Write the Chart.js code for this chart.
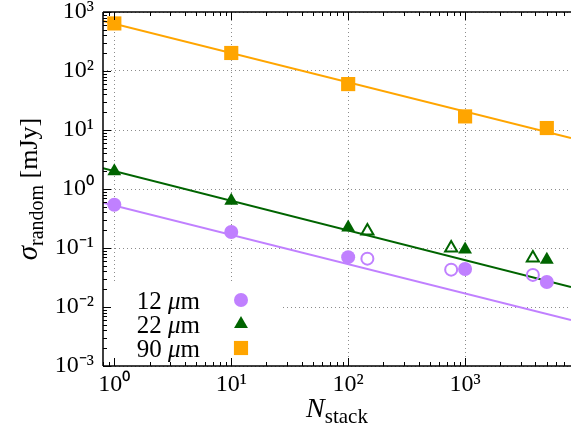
<!DOCTYPE html>
<html>
<head>
<meta charset="utf-8">
<script src="https://cdn.jsdelivr.net/npm/chart.js@4.4.0/dist/chart.umd.min.js"></script>
<style>
  html, body { margin: 0; padding: 0; background: #fff; }
  canvas { display: block; }
</style>
</head>
<body>
<canvas id="stackChart" width="571" height="434"></canvas>
<script>
// stacked N values (filled markers) and the offset set (open markers)
const nStack = [1, 10, 100, 1000, 5000];
const nStackOpen = [146, 760, 3800];
const sigma12 = [0.54, 0.187, 0.070, 0.044, 0.0266];
const sigma22 = [2.0, 0.63, 0.222, 0.094, 0.063];
const sigma90 = [640, 202, 60, 17, 10.8];
const sigma12Open = [0.066, 0.043, 0.035];
const sigma22Open = [0.194, 0.10, 0.068];
// fit lines, read at both ends of the plot
const fitX = [0.8, 8050];
const fit12 = [0.585, 0.006];
const fit22 = [2.26, 0.0218];
const fit90 = [703, 7.3];
const xTicks = [1, 10, 100, 1000];
const yTicks = [0.001, 0.01, 0.1, 1, 10, 100, 1000];

const PURPLE = '#c080ff';
const GREEN = '#006400';
const ORANGE = '#ffa500';
const SERIF = "'Liberation Serif', 'Times New Roman', serif";

const sup = { '0': '⁰', '1': '¹', '2': '²', '3': '³', '-': '⁻' };
function powLabel(v) {
    const e = String(Math.round(Math.log10(v)));
    return '10' + e.split('').map(c => sup[c]).join('');
}
function pts(xs, ys) {
    return xs.map((x, i) => ({ x: x, y: ys[i] }));
}

// draw a run of text pieces (different fonts / baseline shifts) side by side
function drawRuns(ctx, runs, x, y, align) {
    let total = 0;
    runs.forEach(r => { ctx.font = r.font; total += ctx.measureText(r.text).width; });
    let cx = align === 'center' ? x - total / 2 : (align === 'right' ? x - total : x);
    ctx.textAlign = 'left';
    ctx.textBaseline = 'alphabetic';
    runs.forEach(r => {
        ctx.font = r.font;
        ctx.fillText(r.text, cx, y + (r.dy || 0));
        cx += ctx.measureText(r.text).width;
    });
}

const legendItems = [
    { label: '12 ', color: PURPLE, style: 'circle', radius: 7 },
    { label: '22 ', color: GREEN, style: 'triangle', radius: 8 },
    { label: '90 ', color: ORANGE, style: 'rect', radius: 10 }
];

const framePlugin = {
    id: 'frame',
    beforeDatasetsDraw(chart) {
        // legend box in lower left corner, covers the grid
        const ctx = chart.ctx;
        const a = chart.chartArea;
        ctx.save();
        ctx.fillStyle = '#fff';
        ctx.fillRect(a.left, 284, 178, a.bottom - 284);
        legendItems.forEach((it, i) => {
            const y = 300 + i * 24;
            ctx.fillStyle = '#000';
            drawRuns(ctx, [
                { text: it.label, font: '25px ' + SERIF },
                { text: 'μ', font: 'italic 25px ' + SERIF },
                { text: 'm', font: '25px ' + SERIF }
            ], 200, y + 9, 'right');
            ctx.fillStyle = it.color;
            ctx.strokeStyle = it.color;
            Chart.helpers.drawPoint(ctx, { pointStyle: it.style, radius: it.radius, rotation: 0, borderWidth: 0 }, 241, y);
        });
        ctx.restore();
    },
    afterDraw(chart) {
        const ctx = chart.ctx;
        const a = chart.chartArea;
        const xs = chart.scales.x;
        const ys = chart.scales.y;
        ctx.save();
        ctx.strokeStyle = '#000';
        ctx.lineWidth = 1.5;
        ctx.beginPath();
        ctx.moveTo(a.left, a.top);
        ctx.lineTo(a.left, a.bottom);
        ctx.moveTo(a.left, a.top);
        ctx.lineTo(a.right, a.top);
        ctx.moveTo(a.left, a.bottom);
        ctx.lineTo(a.right, a.bottom);
        ctx.stroke();

        // inward ticks, major at decades, minor at 2..9
        ctx.lineWidth = 1;
        ctx.beginPath();
        for (let e = -4; e <= 4; e++) {
            for (let k = 1; k <= 9; k++) {
                const v = k * Math.pow(10, e);
                const len = k === 1 ? 8 : 4;
                if (v >= xs.min && v <= xs.max) {
                    const px = Math.round(xs.getPixelForValue(v)) + 0.5;
                    ctx.moveTo(px, a.bottom);
                    ctx.lineTo(px, a.bottom - len);
                    ctx.moveTo(px, a.top);
                    ctx.lineTo(px, a.top + len);
                }
                if (v >= ys.min && v <= ys.max) {
                    const py = Math.round(ys.getPixelForValue(v)) + 0.5;
                    ctx.moveTo(a.left, py);
                    ctx.lineTo(a.left + len, py);
                }
            }
        }
        ctx.stroke();

        // axis titles
        ctx.fillStyle = '#000';
        drawRuns(ctx, [
            { text: 'N', font: 'italic 28px ' + SERIF },
            { text: 'stack', font: '21px ' + SERIF, dy: 6 }
        ], (a.left + a.right) / 2, 417, 'center');

        ctx.translate(37, (a.top + a.bottom) / 2);
        ctx.rotate(-Math.PI / 2);
        drawRuns(ctx, [
            { text: 'σ', font: 'italic 29px ' + SERIF },
            { text: 'random', font: '20px ' + SERIF, dy: 6 },
            { text: ' [mJy]', font: '26px ' + SERIF }
        ], 0, 0, 'center');
        ctx.restore();
    }
};

function logAxis(min, max, ticks, fit) {
    return {
        type: 'logarithmic',
        min: min,
        max: max,
        afterBuildTicks: scale => { scale.ticks = ticks.map(v => ({ value: v })); },
        afterFit: fit,
        grid: {
            color: '#8c8c8c',
            lineWidth: 1,
            drawTicks: false,
            borderDash: [1, 3]
        },
        border: { display: false, dash: [1, 3] },
        ticks: {
            autoSkip: false,
            maxRotation: 0,
            color: '#000',
            font: { family: SERIF, size: 24 },
            callback: v => powLabel(v)
        }
    };
}

const xAxis = logAxis(fitX[0], fitX[1], xTicks, s => {
    s.height = 68;
    s.paddingLeft = 0;
    s.paddingRight = 0;
});
xAxis.ticks.padding = 4;
const yAxis = logAxis(0.001, 1000, yTicks, s => {
    s.width = 103;
    s.paddingTop = 0;
    s.paddingBottom = 0;
});
yAxis.ticks.padding = 9;

function fitLine(ys, color) {
    return { data: pts(fitX, ys), showLine: true, borderColor: color, borderWidth: 2, pointRadius: 0, order: 10 };
}
function marks(xs, ys, color, style, radius, open) {
    return {
        data: pts(xs, ys),
        showLine: false,
        pointStyle: style,
        pointRadius: radius,
        pointBackgroundColor: open ? 'rgba(255,255,255,0)' : color,
        pointBorderColor: color,
        pointBorderWidth: open ? 2 : 0,
        order: 1
    };
}

new Chart(document.getElementById('stackChart'), {
    type: 'scatter',
    data: {
        datasets: [
            fitLine(fit12, PURPLE),
            fitLine(fit22, GREEN),
            fitLine(fit90, ORANGE),
            marks(nStack, sigma12, PURPLE, 'circle', 7, false),
            marks(nStackOpen, sigma12Open, PURPLE, 'circle', 6, true),
            marks(nStack, sigma22, GREEN, 'triangle', 8, false),
            marks(nStackOpen, sigma22Open, GREEN, 'triangle', 7, true),
            marks(nStack, sigma90, ORANGE, 'rect', 10, false)
        ]
    },
    options: {
        responsive: false,
        animation: false,
        devicePixelRatio: 1,
        layout: { autoPadding: false, padding: { top: 12, right: 0, left: 0, bottom: 0 } },
        plugins: {
            legend: { display: false },
            tooltip: { enabled: false }
        },
        scales: { x: xAxis, y: yAxis }
    },
    plugins: [framePlugin]
});
</script>
</body>
</html>
